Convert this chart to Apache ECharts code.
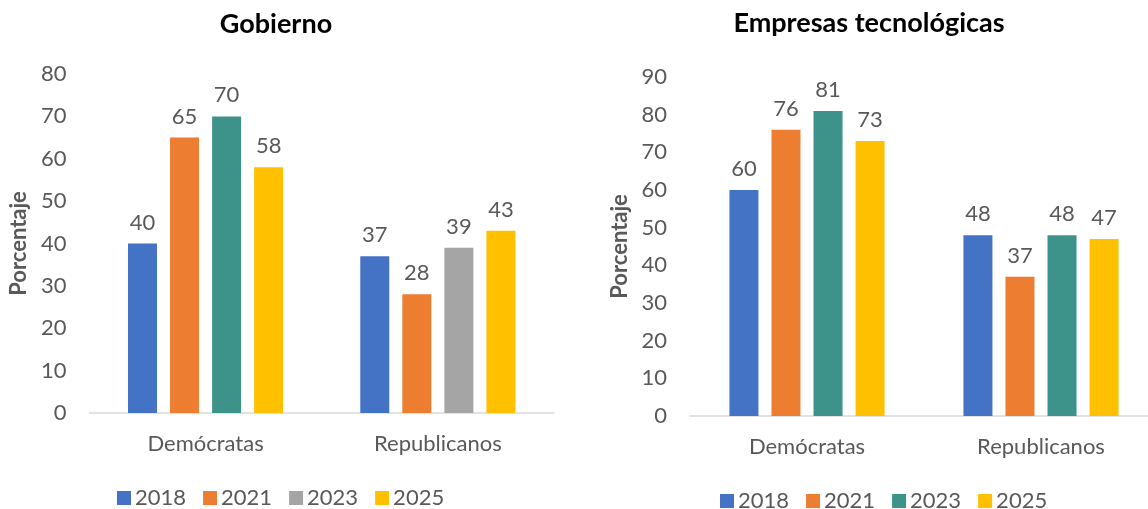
<!DOCTYPE html>
<html>
<head>
<meta charset="utf-8">
<script src="https://cdn.jsdelivr.net/npm/echarts@6/dist/echarts.min.js"></script>
<style>
  html, body { margin: 0; padding: 0; background: #ffffff; }
  #wrap { width: 1148px; height: 509px; position: relative; overflow: hidden; }
  .panel { position: absolute; top: 0; height: 509px; }
  #gob { left: 0; width: 574px; }
  #tech { left: 574px; width: 584px; }
</style>
</head>
<body>
<div id="wrap">
  <div id="gob" class="panel"></div>
  <div id="tech" class="panel"></div>
</div>
<script>
// Categories and years
const categories = ['Demócratas', 'Republicanos'];
const years = ['2018', '2021', '2023', '2025'];

// Gobierno (%)
const gob2018 = [40, 37];
const gob2021 = [65, 28];
const gob2023 = [70, 39];
const gob2025 = [58, 43];

// Empresas tecnológicas (%)
const tech2018 = [60, 48];
const tech2021 = [76, 37];
const tech2023 = [81, 48];
const tech2025 = [73, 47];

const BLUE = '#4472C4', ORANGE = '#ED7D31', GRAY = '#A5A5A5', YELLOW = '#FFC000', TEAL = '#3D9389';
const FONT = 'Lato, "Open Sans", sans-serif';
const TXT = '#595959';

function barSeries(name, values, color, itemColors) {
  return {
    name: name,
    type: 'bar',
    barWidth: 29,
    barGap: '45%',
    data: values.map((v, i) => itemColors && itemColors[i] ? { value: v, itemStyle: { color: itemColors[i] } } : v),
    itemStyle: { color: color },
    label: {
      show: true, position: 'top', distance: 10,
      color: TXT, fontFamily: FONT, fontSize: 22
    },
    emphasis: { disabled: true }
  };
}

function buildOption(cfg) {
  return {
    animation: false,
    textStyle: { fontFamily: FONT },
    graphic: [{
      type: 'text', x: cfg.titleX, y: cfg.titleY,
      style: {
        text: cfg.title, fill: '#000000', font: 'bold 27px ' + FONT,
        textAlign: 'center', textVerticalAlign: 'middle'
      }
    }],
    legend: {
      data: years,
      left: cfg.legendLeft, top: cfg.legendTop,
      padding: 0,
      itemWidth: 14, itemHeight: 14, itemGap: 17,
      icon: 'rect',
      textStyle: { color: TXT, fontFamily: FONT, fontSize: 22, lineHeight: 16, padding: [0, 0, 0, -1] }
    },
    grid: cfg.grid,
    xAxis: {
      type: 'category', data: categories,
      axisLine: { lineStyle: { color: '#D9D9D9', width: 1.5 } },
      axisTick: { show: false },
      axisLabel: { color: TXT, fontFamily: FONT, fontSize: 22, margin: 20 }
    },
    yAxis: {
      type: 'value', min: 0, max: cfg.max, interval: 10,
      name: 'Porcentaje', nameLocation: 'middle', nameRotate: 90, nameGap: cfg.nameGap,
      nameTextStyle: { color: TXT, fontFamily: FONT, fontSize: 22, fontWeight: 'bold' },
      axisLine: { show: false }, axisTick: { show: false },
      splitLine: { show: false },
      axisLabel: { color: TXT, fontFamily: FONT, fontSize: 22, margin: 23 }
    },
    series: cfg.series
  };
}

const gobChart = echarts.init(document.getElementById('gob'), null, { renderer: 'canvas' });
gobChart.setOption(buildOption({
  title: 'Gobierno', titleX: 276, titleY: 24,
  legendLeft: 117, legendTop: 487,
  grid: { left: 87, right: 20, top: 74, bottom: 96 },
  max: 80, nameGap: 54,
  series: [
    barSeries('2018', gob2018, BLUE),
    barSeries('2021', gob2021, ORANGE),
    barSeries('2023', gob2023, GRAY, [TEAL, null]),
    barSeries('2025', gob2025, YELLOW)
  ]
}));

const techChart = echarts.init(document.getElementById('tech'), null, { renderer: 'canvas' });
techChart.setOption(buildOption({
  title: 'Empresas tecnológicas', titleX: 295, titleY: 23,
  legendLeft: 146, legendTop: 490,
  grid: { left: 116, right: 0, top: 77, bottom: 93 },
  max: 90, nameGap: 56,
  series: [
    barSeries('2018', tech2018, BLUE),
    barSeries('2021', tech2021, ORANGE),
    barSeries('2023', tech2023, TEAL),
    barSeries('2025', tech2025, YELLOW)
  ]
}));
</script>
</body>
</html>
